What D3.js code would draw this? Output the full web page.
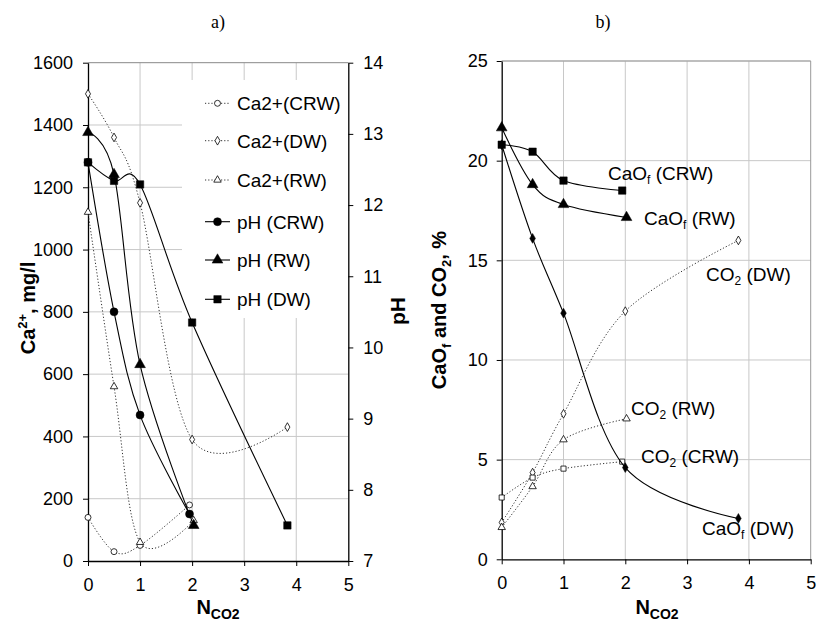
<!DOCTYPE html>
<html><head><meta charset="utf-8">
<script src="https://cdn.jsdelivr.net/npm/d3@7"></script>
<style>body{margin:0;background:#fff}svg{display:block}</style>
</head><body>
<svg id="c" width="818" height="625"></svg>
<script>
// ---------- DATA ----------
const xTicks = [0,1,2,3,4,5];
const caTicks = [0,200,400,600,800,1000,1200,1400,1600];
const phTicks = [7,8,9,10,11,12,13,14];
const bTicks = [0,5,10,15,20,25];

// chart a (Ca2+ in mg/l on left axis, pH on right axis)
const caCRW = [[0,140],[0.5,30],[1,50],[1.95,180]];
const caDW  = [[0,1500],[0.5,1360],[1,1150],[2,390],[3.83,430]];
const caRW  = [[0,1120],[0.5,560],[1,60],[2.03,130]];
const phCRW = [[0,12.6],[0.5,10.5],[1,9.05],[1.95,7.66]];
const phRW  = [[0,13.02],[0.5,12.43],[1,9.76],[2.03,7.5]];
const phDW  = [[0,12.6],[0.5,12.34],[1,12.29],[2,10.35],[3.83,7.5]];

// chart b (%)
const caoCRW = [[0,20.8],[0.5,20.45],[1,19.0],[1.95,18.5]];
const caoRW  = [[0,21.65],[0.5,18.8],[1,17.8],[2.02,17.15]];
const caoDW  = [[0,20.8],[0.5,16.1],[1,12.35],[2,4.6],[3.83,2.05]];
const co2DW  = [[0,1.85],[0.5,4.35],[1,7.3],[2,12.45],[3.83,16.0]];
const co2RW  = [[0,1.6],[0.5,3.65],[1,6.0],[2.02,7.05]];
const co2CRW = [[0,3.1],[0.5,4.1],[1,4.55],[1.95,4.9]];

const legendNames = ["Ca2+(CRW)","Ca2+(DW)","Ca2+(RW)","pH (CRW)","pH (RW)","pH (DW)"];

// ---------- DRAW ----------
const svg = d3.select("#c");
const FONT = "Liberation Sans, Arial, sans-serif";
const GRID = "#c8c8c8";
const TICKFS = 18;

const xa = d3.scaleLinear().domain([0,5]).range([88,348.3]);
const ya = d3.scaleLinear().domain([0,1600]).range([561,62.7]);
const yp = d3.scaleLinear().domain([7,14]).range([561,62.7]);
const xb = d3.scaleLinear().domain([0,5]).range([501.7,810.7]);
const yb = d3.scaleLinear().domain([0,25]).range([559.3,61]);

const curve = d3.curveCardinal.tension(0);
const fmt = d3.format("d");

function symbolPath(type, size){ return d3.symbol().type(type).size(size)(); }

function drawSeries(g, data, x, y, opt){
  const line = d3.line().x(d=>x(d[0])).y(d=>y(d[1])).curve(curve);
  g.append("path").attr("d", line(data)).attr("fill","none")
    .attr("stroke", opt.dotted ? "#333" : "#000")
    .attr("stroke-width", opt.dotted ? 1 : 1.1)
    .attr("stroke-dasharray", opt.dotted ? "1.2,2" : null);
  g.selectAll(null).data(data).enter().append("path")
    .attr("d", symbolPath(opt.sym, opt.size))
    .attr("transform", d=>`translate(${x(d[0])},${y(d[1])})`)
    .attr("fill", opt.fill ? "#000" : "#fff")
    .attr("stroke", "#000").attr("stroke-width", opt.fill ? 0.5 : 0.8);
}

// ===== Chart a =====
const ga = svg.append("g");
const legBox = {x0:182, x1:346, y0:80, y1:318};
caTicks.filter(v=>v>0 && v<1600).forEach(v=>{
  const yy = ya(v);
  const inLeg = yy>legBox.y0 && yy<legBox.y1;
  ga.append("line").attr("x1",xa(0)).attr("x2", inLeg?legBox.x0:xa(5))
    .attr("y1",yy).attr("y2",yy).attr("stroke",GRID);
});
xTicks.filter(v=>v>0 && v<5).forEach(v=>{
  const xx = xa(v);
  if (xx>legBox.x0){
    ga.append("line").attr("x1",xx).attr("x2",xx).attr("y1",ya(1600)).attr("y2",legBox.y0).attr("stroke",GRID);
    ga.append("line").attr("x1",xx).attr("x2",xx).attr("y1",legBox.y1).attr("y2",ya(0)).attr("stroke",GRID);
  } else {
    ga.append("line").attr("x1",xx).attr("x2",xx).attr("y1",ya(1600)).attr("y2",ya(0)).attr("stroke",GRID);
  }
});
ga.append("line").attr("x1",xa(0)).attr("x2",xa(5)).attr("y1",ya(1600)).attr("y2",ya(1600)).attr("stroke","#888");

function styleAxis(sel){
  sel.selectAll("text").attr("font-family",FONT).attr("font-size",TICKFS).attr("fill","#000");
  sel.selectAll("line").attr("stroke","#000");
  sel.select(".domain").attr("stroke","#000").attr("stroke-width",1.3);
}
ga.append("g").attr("transform",`translate(${xa(0)},0)`)
  .call(d3.axisLeft(ya).tickValues(caTicks).tickFormat(fmt).tickSize(5).tickSizeOuter(0).tickPadding(10)).call(styleAxis);
ga.append("g").attr("transform",`translate(${xa(5)},0)`)
  .call(d3.axisRight(yp).tickValues(phTicks).tickFormat(fmt).tickSize(5).tickSizeOuter(0).tickPadding(10)).call(styleAxis);
ga.append("g").attr("transform",`translate(0,${ya(0)})`)
  .call(d3.axisBottom(xa).tickValues(xTicks).tickFormat(fmt).tickSize(5).tickSizeOuter(0).tickPadding(12)).call(styleAxis);

drawSeries(ga, caCRW, xa, ya, {dotted:true, sym:d3.symbolCircle, size:28, fill:false});
drawSeries(ga, caDW,  xa, ya, {dotted:true, sym:d3.symbolDiamond, size:22, fill:false});
drawSeries(ga, caRW,  xa, ya, {dotted:true, sym:d3.symbolTriangle, size:24, fill:false});
drawSeries(ga, phCRW, xa, yp, {dotted:false, sym:d3.symbolCircle, size:50, fill:true});
drawSeries(ga, phRW,  xa, yp, {dotted:false, sym:d3.symbolTriangle, size:50, fill:true});
drawSeries(ga, phDW,  xa, yp, {dotted:false, sym:d3.symbolSquare, size:55, fill:true});

const legSyms = [
  {dotted:true, sym:d3.symbolCircle, size:28, fill:false},
  {dotted:true, sym:d3.symbolDiamond, size:22, fill:false},
  {dotted:true, sym:d3.symbolTriangle, size:24, fill:false},
  {dotted:false, sym:d3.symbolCircle, size:50, fill:true},
  {dotted:false, sym:d3.symbolTriangle, size:50, fill:true},
  {dotted:false, sym:d3.symbolSquare, size:55, fill:true}
];
const legY = [103.3,140.7,180,221.7,260,299.3];
legendNames.forEach((n,i)=>{
  const o = legSyms[i], yy = legY[i];
  ga.append("line").attr("x1",205).attr("x2",230).attr("y1",yy).attr("y2",yy)
    .attr("stroke", o.dotted?"#333":"#000").attr("stroke-width",o.dotted?1:1.1)
    .attr("stroke-dasharray", o.dotted?"1.2,2":null);
  ga.append("path").attr("d",symbolPath(o.sym,o.size)).attr("transform",`translate(217.5,${yy})`)
    .attr("fill",o.fill?"#000":"#fff").attr("stroke","#000").attr("stroke-width",o.fill?0.5:0.8);
  ga.append("text").attr("x",237).attr("y",yy).attr("dy","0.36em")
    .attr("font-family",FONT).attr("font-size",19).text(n);
});

const t1 = ga.append("text").attr("transform","translate(35,308) rotate(-90)")
  .attr("text-anchor","middle").attr("font-family",FONT).attr("font-size",20).attr("font-weight","bold");
t1.append("tspan").text("Ca");
t1.append("tspan").attr("dy",-8).attr("font-size",13).text("2+");
t1.append("tspan").attr("dy",8).text(", mg/l");
ga.append("text").attr("transform","translate(405,311) rotate(-90)")
  .attr("text-anchor","middle").attr("font-family",FONT).attr("font-size",21).attr("font-weight","bold").text("pH");
const xt1 = ga.append("text").attr("x",218).attr("y",614).attr("text-anchor","middle")
  .attr("font-family",FONT).attr("font-size",20).attr("font-weight","bold");
xt1.append("tspan").text("N");
xt1.append("tspan").attr("dy",5).attr("font-size",14).text("CO2");
ga.append("text").attr("x",218).attr("y",28).attr("text-anchor","middle")
  .attr("font-family","Liberation Serif, Times New Roman, serif").attr("font-size",18).text("a)");

// ===== Chart b =====
const gb = svg.append("g");
bTicks.filter(v=>v>0).forEach(v=>{
  gb.append("line").attr("x1",xb(0)).attr("x2",xb(5)).attr("y1",yb(v)).attr("y2",yb(v)).attr("stroke",GRID);
});
xTicks.filter(v=>v>0).forEach(v=>{
  gb.append("line").attr("x1",xb(v)).attr("x2",xb(v)).attr("y1",yb(25)).attr("y2",yb(0)).attr("stroke", v===5?"#999":GRID);
});
gb.append("line").attr("x1",xb(0)).attr("x2",xb(5)).attr("y1",yb(25)).attr("y2",yb(25)).attr("stroke","#999");
gb.append("g").attr("transform",`translate(${xb(0)},0)`)
  .call(d3.axisLeft(yb).tickValues(bTicks).tickFormat(fmt).tickSize(5).tickSizeOuter(0).tickPadding(9)).call(styleAxis);
gb.append("g").attr("transform",`translate(0,${yb(0)})`)
  .call(d3.axisBottom(xb).tickValues(xTicks).tickFormat(fmt).tickSize(5).tickSizeOuter(0).tickPadding(12)).call(styleAxis);

drawSeries(gb, co2DW,  xb, yb, {dotted:true, sym:d3.symbolDiamond, size:22, fill:false});
drawSeries(gb, co2RW,  xb, yb, {dotted:true, sym:d3.symbolTriangle, size:24, fill:false});
drawSeries(gb, co2CRW, xb, yb, {dotted:true, sym:d3.symbolSquare, size:26, fill:false});
drawSeries(gb, caoCRW, xb, yb, {dotted:false, sym:d3.symbolSquare, size:55, fill:true});
drawSeries(gb, caoRW,  xb, yb, {dotted:false, sym:d3.symbolTriangle, size:50, fill:true});
drawSeries(gb, caoDW,  xb, yb, {dotted:false, sym:d3.symbolDiamond, size:28, fill:true});

function label(x,y,main,sub,rest){
  const t = gb.append("text").attr("x",x).attr("y",y).attr("font-family",FONT).attr("font-size",19);
  t.append("tspan").text(main);
  t.append("tspan").attr("dy",4).attr("font-size",12).text(sub);
  t.append("tspan").attr("dy",-4).text(rest);
}
label(608,180,"CaO","f"," (CRW)");
label(644,225,"CaO","f"," (RW)");
label(706,281,"CO","2"," (DW)");
label(631,415,"CO","2"," (RW)");
label(641,463,"CO","2"," (CRW)");
label(702,535,"CaO","f"," (DW)");

const t2 = gb.append("text").attr("transform","translate(446,310) rotate(-90)")
  .attr("text-anchor","middle").attr("font-family",FONT).attr("font-size",20).attr("font-weight","bold");
t2.append("tspan").text("CaO");
t2.append("tspan").attr("dy",5).attr("font-size",13).text("f");
t2.append("tspan").attr("dy",-5).text(" and CO");
t2.append("tspan").attr("dy",5).attr("font-size",13).text("2");
t2.append("tspan").attr("dy",-5).text(", %");
const xt2 = gb.append("text").attr("x",657).attr("y",614).attr("text-anchor","middle")
  .attr("font-family",FONT).attr("font-size",20).attr("font-weight","bold");
xt2.append("tspan").text("N");
xt2.append("tspan").attr("dy",5).attr("font-size",14).text("CO2");
gb.append("text").attr("x",603).attr("y",28).attr("text-anchor","middle")
  .attr("font-family","Liberation Serif, Times New Roman, serif").attr("font-size",18).text("b)");
</script>
</body></html>
